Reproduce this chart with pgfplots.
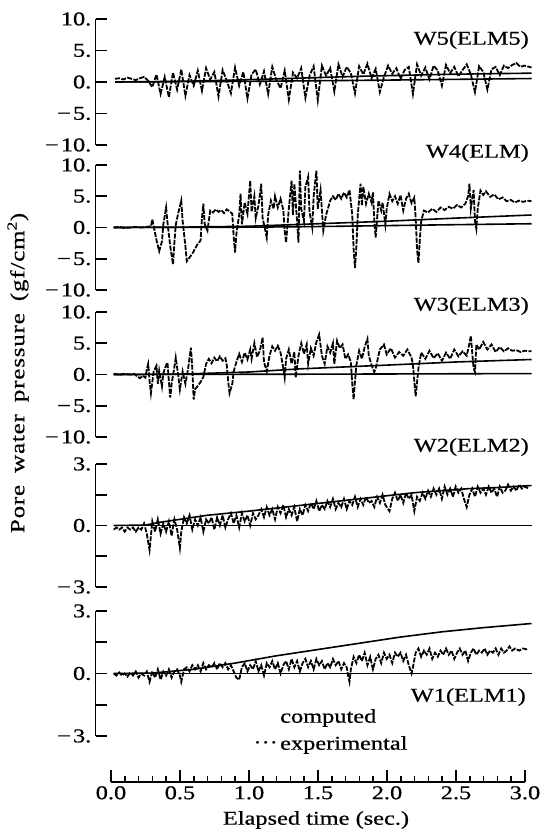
\documentclass[border=0pt]{standalone}
\usepackage{fontspec}
\setmainfont{Liberation Serif}[FakeStretch=1.25, FakeBold=0.6]
\newfontfamily\ylabfont{Liberation Serif}[FakeStretch=1.25, FakeBold=0.6, LetterSpace=4]
\usepackage{pgfplots}
\pgfplotsset{compat=1.18}

\newcommand\tickf{\fontsize{19.5}{22}\selectfont}

\pgfplotsset{
  panel/.style={
    scale only axis, width=436pt, height=#1,
    xmin=-0.112, xmax=3.05,
    axis x line=none, axis y line=left,
    axis line style={-, line width=1.6pt},
    tick style={line width=1.6pt, black},
    ytick align=inside, major tick length=11pt,
    yticklabel style={font=\tickf, inner sep=0pt, xshift=-4pt},
    clip=false, enlargelimits=false,
  },
  big/.style={ymin=-10, ymax=10, ytick={-10,-5,0,5,10},
    yticklabels={−\hspace{2pt}10.,−\hspace{2pt}5.,0.,5.,10.}},
  small/.style={ymin=-3, ymax=3, ytick={-3,-1.5,0,1.5,3},
    yticklabels={−\hspace{2pt}3.,,0.,,3.}},
  exp/.style={black, line width=1.8pt, dash pattern=on 5pt off 1.4pt},
  comp/.style={black, line width=1.6pt},
}

\begin{document}
\begin{tikzpicture}
\path[use as bounding box] (0pt,0pt) rectangle (545pt,837pt);

% ---- W5(ELM5)
\begin{axis}[panel=126pt, big, at={(95.5pt,692pt)}, anchor=south west]
\addplot[exp] coordinates {
(0.03,0.5) (0.06,0.6) (0.09,0.4) (0.12,0.7) (0.15,0.5) (0.18,0.3) (0.21,0.6) (0.24,0.8) (0.27,0.2)
(0.30,-0.8) (0.33,1.2) (0.36,-1.9) (0.39,0.8) (0.42,-2.4) (0.45,1.5) (0.48,-1.2) (0.51,2.0) (0.54,-2.2) (0.57,1.1)
(0.60,-0.6) (0.63,1.8) (0.66,-1.4) (0.69,2.2) (0.72,0.4) (0.75,1.6) (0.78,-2.3) (0.81,1.9) (0.84,0.2) (0.87,-1.8)
(0.90,2.3) (0.93,-0.6) (0.96,1.6) (0.99,-2.6) (1.02,1.2) (1.05,2.0) (1.08,-0.4) (1.11,1.7) (1.14,-1.9) (1.17,2.4)
(1.20,0.3) (1.23,-1.0) (1.26,1.8) (1.29,-2.8) (1.32,1.5) (1.35,0.6) (1.38,2.2) (1.41,-2.5) (1.44,1.0) (1.47,2.5)
(1.50,-2.9) (1.53,2.6) (1.56,1.0) (1.59,2.2) (1.62,-1.5) (1.65,2.8) (1.68,0.8) (1.71,2.4) (1.74,1.4) (1.77,-1.8)
(1.80,2.5) (1.83,1.2) (1.86,2.9) (1.89,0.6) (1.92,2.1) (1.95,-1.6) (1.98,0.8) (2.01,2.6) (2.04,1.3) (2.07,2.2)
(2.10,0.5) (2.13,1.9) (2.16,2.4) (2.19,-1.9) (2.22,2.8) (2.25,1.0) (2.28,2.3) (2.31,0.4) (2.34,2.6) (2.37,1.8)
(2.40,-0.6) (2.43,2.7) (2.46,1.4) (2.49,2.4) (2.52,0.9) (2.55,1.9) (2.58,2.8) (2.61,1.2) (2.64,-1.6) (2.67,2.5)
(2.70,1.6) (2.73,-1.2) (2.76,2.0) (2.79,2.4) (2.82,1.1) (2.85,2.6) (2.88,2.2) (2.91,2.7) (2.94,3.0) (2.97,2.4) (3.00,2.6) (3.05,2.3)
};
\addplot[comp] coordinates {(0.03,0) (0.3,0.05) (0.6,0.15) (0.9,0.3) (1.2,0.5) (1.5,0.7) (1.8,0.9) (2.1,1.05) (2.4,1.2) (2.7,1.3) (3.05,1.4)};
\addplot[comp] coordinates {(0.03,0) (1.0,0.1) (2.0,0.3) (3.05,0.55)};
\end{axis}

% ---- W4(ELM)
\begin{axis}[panel=125pt, big, at={(95.5pt,547pt)}, anchor=south west]
\addplot[exp] coordinates {
(0.02,0.0) (0.06,0.1) (0.10,-0.1) (0.14,0.0) (0.18,0.1) (0.22,0.0) (0.26,0.1) (0.29,0.2)
(0.30,1.3) (0.31,0.2) (0.33,-2.0) (0.35,-3.8) (0.37,-2.2) (0.38,0.5)
(0.40,3.2) (0.41,0.8) (0.43,-3.0) (0.45,-5.9) (0.46,-2.5) (0.47,0.4)
(0.49,2.5) (0.51,4.3) (0.52,1.0) (0.54,-3.0) (0.55,-5.4) (0.57,-4.8) (0.59,-4.2) (0.61,-3.4) (0.63,-2.6) (0.65,-2.1)
(0.66,1.5) (0.67,3.8) (0.68,0.5) (0.70,-0.5) (0.72,2.7) (0.74,2.4) (0.76,2.9) (0.78,2.5) (0.80,2.8) (0.82,2.3) (0.84,2.9) (0.86,2.6) (0.88,2.2)
(0.89,-1.5) (0.90,-4.0) (0.91,-1.0) (0.93,2.0) (0.94,5.4) (0.95,0.5) (0.97,4.0) (0.99,2.2) (1.01,7.5) (1.02,2.5) (1.04,5.0) (1.05,1.5) (1.07,3.5)
(1.09,7.0) (1.10,1.5) (1.12,-0.5) (1.13,-1.6) (1.14,2.0) (1.16,4.3) (1.18,3.0) (1.19,5.0) (1.21,3.2) (1.23,4.6) (1.25,2.8) (1.26,-0.5) (1.27,-2.4)
(1.29,3.0) (1.31,7.5) (1.32,2.0) (1.33,7.0) (1.35,1.0) (1.36,-2.4) (1.37,9.1) (1.38,3.0) (1.40,1.0)
(1.41,6.5) (1.43,8.1) (1.44,2.5) (1.46,0.0) (1.47,5.0) (1.49,9.1) (1.50,3.0) (1.52,6.0) (1.54,-0.5) (1.56,2.0) (1.58,3.5)
(1.59,4.3) (1.61,5.0) (1.63,4.4) (1.65,5.4) (1.67,4.6) (1.69,5.6) (1.71,4.8) (1.73,6.0) (1.75,2.0)
(1.76,-3.5) (1.77,-6.5) (1.78,-3.0) (1.79,2.0) (1.81,7.0) (1.82,3.5) (1.83,6.5) (1.85,3.8) (1.87,5.4) (1.89,4.0) (1.90,5.6) (1.91,1.0) (1.92,-1.6)
(1.94,4.3) (1.96,2.7) (1.97,4.0) (1.99,0.5) (2.00,3.0) (2.02,5.4) (2.04,4.2) (2.06,5.0) (2.08,3.8) (2.10,5.2) (2.12,2.7) (2.14,4.6) (2.16,5.4) (2.18,3.9) (2.20,4.8) (2.21,1.5)
(2.22,-3.5) (2.23,-5.7) (2.24,-2.0) (2.25,1.0) (2.27,2.7) (2.30,2.4) (2.33,3.0) (2.36,2.5) (2.39,3.2) (2.42,2.8) (2.45,3.3) (2.48,3.0) (2.51,3.6) (2.54,3.2) (2.57,3.8)
(2.59,5.0) (2.60,7.0) (2.61,3.0) (2.63,6.0) (2.64,1.0) (2.65,-0.2) (2.66,3.0)
(2.68,5.9) (2.70,5.2) (2.72,5.8) (2.75,4.9) (2.78,5.3) (2.81,4.5) (2.84,4.8) (2.87,4.2) (2.90,4.4) (2.93,4.0) (2.96,4.3) (2.99,4.1) (3.02,4.3) (3.05,4.2)
};
\addplot[comp] coordinates {(0.02,0) (0.5,0.05) (1.0,0.2) (1.5,0.6) (2.0,1.0) (2.5,1.5) (3.05,2.0)};
\addplot[comp] coordinates {(0.02,0) (1.0,0.05) (1.5,0.15) (2.0,0.3) (2.5,0.45) (3.05,0.6)};
\end{axis}

% ---- W3(ELM3)
\begin{axis}[panel=125pt, big, at={(95.5pt,400pt)}, anchor=south west]
\addplot[exp] coordinates {
(0.02,0.1) (0.06,0.0) (0.10,0.1) (0.14,0.0) (0.17,0.1) (0.19,-0.3) (0.21,-0.6) (0.23,-0.2) (0.25,-0.5)
(0.26,0.8) (0.27,1.7) (0.28,-1.0) (0.29,-3.0) (0.30,-1.2) (0.31,0.5)
(0.33,1.4) (0.34,-1.5) (0.35,0.6) (0.37,-1.9) (0.38,0.2) (0.40,1.5)
(0.41,1.9) (0.42,-1.0) (0.43,-3.7) (0.44,-1.5) (0.46,1.2) (0.47,2.7) (0.49,-0.5) (0.50,-2.4) (0.52,0.5) (0.54,-1.5) (0.56,1.0)
(0.58,4.3) (0.59,1.0) (0.60,-4.0) (0.61,-2.4) (0.63,-1.8) (0.65,-1.2) (0.67,-0.4)
(0.69,1.7) (0.71,2.5) (0.73,1.8) (0.75,2.7) (0.77,2.1) (0.79,2.9) (0.81,2.2) (0.83,2.6) (0.84,1.5)
(0.85,-1.0) (0.86,-3.0) (0.88,-1.5) (0.89,0.5)
(0.91,2.0) (0.93,3.3) (0.95,2.0) (0.97,3.5) (0.99,2.4) (1.01,4.0) (1.02,2.5) (1.04,5.0) (1.06,2.8) (1.08,3.8) (1.10,5.9) (1.11,2.0) (1.13,0.5)
(1.15,3.0) (1.17,4.5) (1.19,3.8) (1.21,4.6) (1.23,3.5) (1.25,1.0) (1.26,-0.5) (1.27,2.5) (1.29,4.0) (1.31,1.7) (1.33,3.6) (1.34,-0.5) (1.36,3.0)
(1.38,5.0) (1.40,3.3) (1.42,4.8) (1.43,1.7) (1.45,4.2) (1.47,3.0) (1.49,5.2) (1.51,6.4) (1.53,3.0) (1.55,1.7) (1.57,4.5) (1.59,3.5) (1.61,5.0) (1.62,1.7) (1.64,5.4) (1.66,4.2) (1.68,4.8) (1.70,2.5) (1.72,3.2) (1.74,2.0)
(1.75,-1.5) (1.76,-4.0) (1.77,-1.0) (1.78,1.5)
(1.80,3.8) (1.82,2.5) (1.84,4.4) (1.86,5.7) (1.87,3.0) (1.89,1.5) (1.91,0.4) (1.92,1.0)
(1.95,4.0) (1.98,4.8) (2.00,3.2) (2.03,4.2) (2.06,2.7) (2.09,3.6) (2.12,3.0) (2.15,4.0) (2.18,2.7) (2.19,1.5)
(2.20,-1.0) (2.21,-3.5) (2.22,-1.2) (2.23,1.0)
(2.25,3.5) (2.28,2.5) (2.31,3.8) (2.34,2.6) (2.37,3.4) (2.40,2.2) (2.43,3.5) (2.46,2.5) (2.49,4.0) (2.52,2.9) (2.55,3.7) (2.58,3.0)
(2.60,5.0) (2.61,6.2) (2.62,3.5) (2.63,1.0) (2.64,0.4) (2.65,4.8)
(2.67,4.0) (2.70,5.2) (2.73,4.0) (2.76,4.8) (2.79,3.6) (2.82,4.4) (2.85,3.7) (2.88,4.2) (2.91,3.8) (2.94,3.9) (2.97,3.6) (3.00,3.8) (3.05,3.7)
};
\addplot[comp] coordinates {(0.02,0) (0.5,0.05) (1.0,0.4) (1.37,0.9) (2.0,1.5) (2.5,2.0) (3.05,2.4)};
\addplot[comp] coordinates {(0.02,0) (1.5,0.05) (3.05,0.15)};
\end{axis}

% ---- W2(ELM2)
\begin{axis}[panel=123pt, small, at={(95.5pt,250pt)}, anchor=south west]
\addplot[exp] coordinates {
(0.02,-0.2) (0.04,-0.1) (0.06,-0.2) (0.08,-0.1) (0.10,-0.3) (0.12,-0.1) (0.14,-0.2) (0.16,-0.1) (0.18,-0.3) (0.20,-0.1) (0.22,-0.2)
(0.24,0.1) (0.26,-0.4) (0.28,-1.2) (0.29,-0.5) (0.30,0.2) (0.32,-0.3) (0.34,0.3) (0.36,-0.4) (0.38,0.1) (0.40,-0.3) (0.42,0.2) (0.44,-0.5) (0.46,0.3) (0.48,-0.2) (0.50,-1.1) (0.51,-0.3) (0.53,0.4)
(0.55,0.1) (0.57,0.5) (0.59,-0.2) (0.61,0.3) (0.63,0.0) (0.65,0.4) (0.67,-0.3) (0.69,0.3) (0.71,0.1) (0.73,0.4) (0.75,-0.2) (0.77,0.4) (0.79,0.0) (0.81,0.5) (0.83,-0.1) (0.85,0.3)
(0.87,0.6) (0.89,0.1) (0.91,0.5) (0.93,-0.1) (0.95,0.6) (0.97,0.2) (0.99,0.5) (1.01,0.0) (1.03,0.6) (1.05,0.3) (1.07,0.5) (1.09,0.8)
(1.11,0.4) (1.13,0.9) (1.15,0.5) (1.17,0.8) (1.19,0.3) (1.21,0.9) (1.23,0.6) (1.25,1.0) (1.27,0.4) (1.29,0.8) (1.31,0.5) (1.33,0.9) (1.35,0.2) (1.37,0.8) (1.39,0.5) (1.41,1.0)
(1.43,0.7) (1.45,1.1) (1.47,0.8) (1.49,1.2) (1.51,0.7) (1.53,1.0) (1.55,0.8) (1.57,1.2) (1.59,0.9)
(1.61,1.3) (1.63,0.8) (1.65,1.1) (1.67,0.9) (1.69,1.3) (1.71,0.8) (1.73,1.2) (1.75,1.0) (1.77,1.4) (1.79,0.9) (1.81,1.3) (1.83,1.0) (1.85,1.4) (1.87,1.1) (1.89,1.2) (1.91,0.9) (1.93,1.4) (1.95,1.1) (1.97,1.5) (1.99,1.0) (2.02,0.7)
(2.04,1.3) (2.06,1.6) (2.08,1.2) (2.10,1.5) (2.12,1.1) (2.14,1.6) (2.16,1.3) (2.18,1.5) (2.20,0.7) (2.22,1.4) (2.24,1.2) (2.26,1.6) (2.28,1.3) (2.30,1.7) (2.32,1.4)
(2.34,1.8) (2.36,1.5) (2.38,1.8) (2.40,1.3) (2.42,1.9) (2.44,1.5) (2.46,1.8) (2.48,1.4) (2.50,1.9) (2.52,1.6) (2.54,1.8) (2.56,1.3) (2.58,0.9) (2.60,1.5) (2.62,1.8) (2.64,1.4) (2.66,1.9) (2.68,1.6) (2.70,1.8) (2.72,1.5) (2.74,1.9) (2.76,1.6) (2.78,1.8) (2.80,1.4) (2.82,1.9) (2.84,1.6) (2.86,1.7) (2.88,2.0) (2.90,1.7) (2.92,1.9) (2.94,1.7) (2.96,2.0) (2.98,1.8) (3.00,1.9) (3.03,1.8)
};
\addplot[comp] coordinates {(0.02,0) (0.25,0.02) (0.35,0.15) (0.5,0.3) (0.7,0.5) (0.85,0.6) (1.0,0.7) (1.2,0.85) (1.4,1.0) (1.6,1.15) (1.8,1.3) (2.0,1.45) (2.2,1.6) (2.4,1.7) (2.6,1.8) (2.8,1.85) (3.05,1.95)};
\addplot[comp] coordinates {(0.02,0) (3.05,0)};
\end{axis}

% ---- W1(ELM1)
\begin{axis}[panel=125pt, small, at={(95.5pt,101pt)}, anchor=south west]
\addplot[exp] coordinates {
(0.02,0.0) (0.04,-0.1) (0.06,0.05) (0.08,-0.1) (0.10,0.0) (0.12,-0.15) (0.14,0.05) (0.16,-0.1) (0.18,0.1) (0.20,-0.2) (0.22,0.0) (0.24,-0.1) (0.26,0.1)
(0.28,-0.4) (0.30,0.1) (0.32,-0.2) (0.34,0.2) (0.36,-0.3) (0.38,0.1) (0.40,-0.1) (0.42,0.2) (0.44,-0.2) (0.46,0.1) (0.48,0.2) (0.50,-0.1) (0.51,-0.4) (0.53,0.2)
(0.55,0.3) (0.57,0.1) (0.59,0.4) (0.61,0.2) (0.63,0.4) (0.65,0.1) (0.67,0.5) (0.69,0.2) (0.71,0.4) (0.73,0.3) (0.75,0.5) (0.77,0.2) (0.79,0.5) (0.81,0.3) (0.83,0.5) (0.85,0.2) (0.87,0.4)
(0.89,0.1) (0.91,-0.2) (0.93,-0.3) (0.95,0.3) (0.97,0.5) (0.99,0.1) (1.01,0.4) (1.03,0.2) (1.05,0.6) (1.07,0.1) (1.09,0.4) (1.11,-0.1) (1.13,0.5) (1.15,0.3) (1.17,0.6) (1.19,0.2) (1.21,0.5) (1.23,0.0) (1.25,0.4)
(1.27,0.6) (1.29,0.2) (1.31,0.7) (1.33,0.3) (1.35,0.6) (1.37,0.1) (1.39,0.5) (1.41,0.7) (1.43,0.3) (1.45,0.6) (1.47,0.2) (1.49,0.7) (1.51,0.4) (1.53,0.6) (1.55,0.2) (1.57,0.5) (1.59,0.3) (1.61,0.7)
(1.63,0.4) (1.65,0.6) (1.67,0.2) (1.69,0.5) (1.71,0.3) (1.72,-0.1) (1.73,-0.4) (1.74,0.2)
(1.76,0.8) (1.78,0.5) (1.80,0.9) (1.82,0.6) (1.84,1.0) (1.86,0.4) (1.88,0.8) (1.90,0.2) (1.92,0.7) (1.94,0.9) (1.96,0.5) (1.98,1.0) (2.00,0.7) (2.02,0.9) (2.04,0.5) (2.06,1.0) (2.08,0.8) (2.10,1.0) (2.12,0.6) (2.14,0.9) (2.16,0.4) (2.18,0.0) (2.19,0.3)
(2.21,1.0) (2.23,1.2) (2.25,0.8) (2.27,1.1) (2.29,0.9) (2.31,1.2) (2.33,0.7) (2.35,1.0) (2.37,0.8) (2.39,1.1) (2.41,0.9) (2.43,1.2) (2.45,0.9) (2.47,1.1) (2.49,0.7) (2.51,1.0) (2.53,1.2) (2.55,0.9) (2.57,1.1) (2.59,0.6) (2.61,1.0) (2.63,1.2) (2.65,0.9) (2.67,1.1) (2.69,1.0) (2.71,1.2) (2.73,0.9) (2.75,1.1) (2.77,1.0) (2.79,1.2) (2.81,0.9) (2.83,1.2) (2.85,1.0) (2.87,1.1) (2.89,1.3) (2.91,1.1) (2.93,1.2) (2.96,1.1) (2.99,1.2) (3.02,1.15)
};
\addplot[comp] coordinates {(0.02,0) (0.3,0.02) (0.6,0.2) (0.9,0.5) (1.2,0.85) (1.5,1.15) (1.8,1.45) (2.1,1.75) (2.4,2.0) (2.7,2.2) (3.05,2.4)};
\addplot[comp] coordinates {(0.02,0) (3.05,0)};
\end{axis}

% ---- time axis
\begin{axis}[
  at={(111pt,55pt)}, anchor=south west,
  scale only axis, width=414pt, height=10pt,
  xmin=0, xmax=3, ymin=0, ymax=1,
  axis x line=bottom, axis y line=none,
  axis line style={-, line width=1.6pt},
  tick style={line width=1.5pt, black},
  xtick={0,0.5,1,1.5,2,2.5,3},
  xticklabels={0.0,0.5,1.0,1.5,2.0,2.5,3.0},
  minor x tick num=4,
  xtick align=inside,
  major tick length=12pt, minor tick length=6pt,
  xticklabel style={font=\tickf, inner sep=0pt, yshift=-4pt},
]
\addplot[draw=none] coordinates {(0,0) (3,1)};
\end{axis}

% ---- texts
\node[anchor=east, font=\tickf, inner sep=0pt] at (529pt,797pt) {W5(ELM5)};
\node[anchor=east, font=\tickf, inner sep=0pt] at (529pt,684pt) {W4(ELM)};
\node[anchor=east, font=\tickf, inner sep=0pt] at (529pt,531pt) {W3(ELM3)};
\node[anchor=east, font=\tickf, inner sep=0pt] at (529pt,390pt) {W2(ELM2)};
\node[anchor=east, font=\tickf, inner sep=0pt] at (526pt,140pt) {W1(ELM1)};
\node[anchor=west, font=\tickf, inner sep=0pt] at (280pt,119pt) {computed};
\node[anchor=west, font=\tickf, inner sep=0pt] at (280pt,92pt) {experimental};
\node[anchor=east, font=\tickf, inner sep=0pt] at (278pt,92pt) {···};
\node[font=\tickf, inner sep=0pt] at (316pt,17pt) {Elapsed time (sec.)};
\node[rotate=90, inner sep=0pt, font={\ylabfont\fontsize{20}{24}\selectfont}] at (18pt,464pt)
  {Pore\hspace{5pt} water\hspace{5pt} pressure\hspace{5pt} (gf/cm\textsuperscript{2})};
\end{tikzpicture}
\end{document}
